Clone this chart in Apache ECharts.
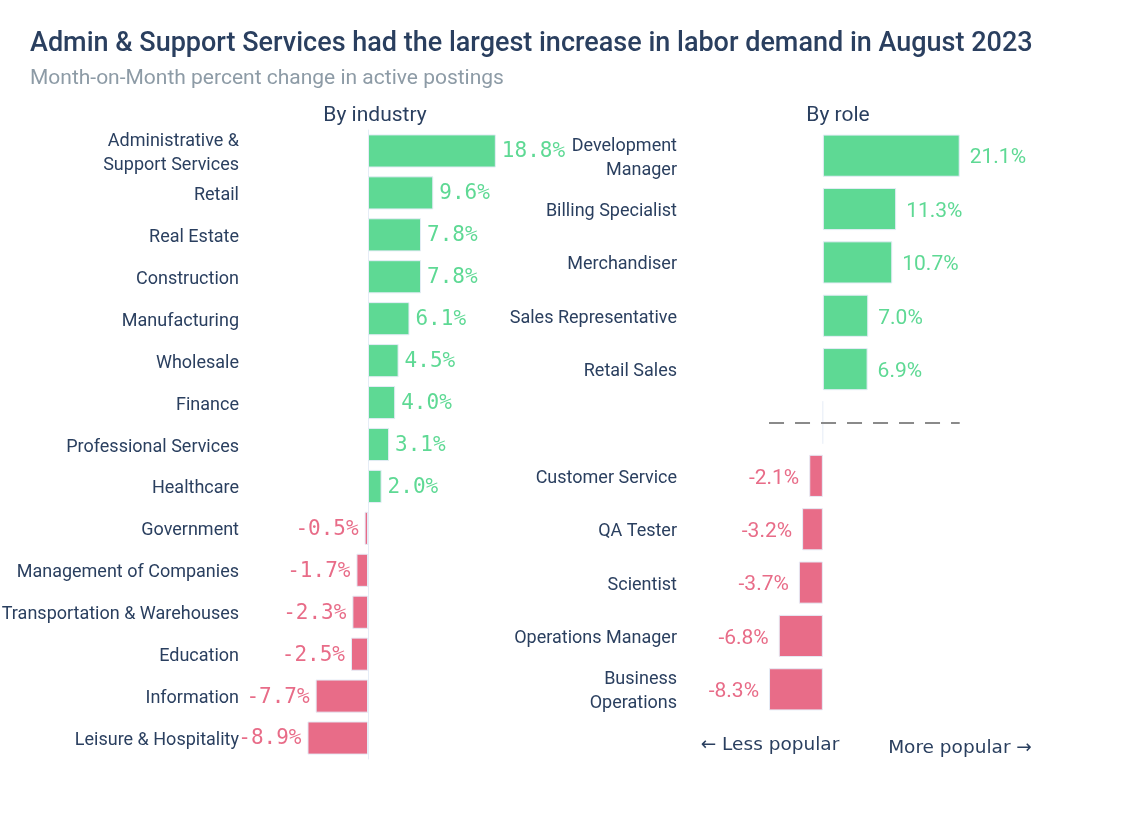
<!DOCTYPE html>
<html>
<head>
<meta charset="utf-8">
<script src="https://cdn.jsdelivr.net/npm/echarts@6/dist/echarts.min.js"></script>
<style>
html,body{margin:0;padding:0;background:#fff;}
#chart{width:1131px;height:838px;}
</style>
</head>
<body>
<div id="chart"></div>
<script>
const titleText = 'Admin & Support Services had the largest increase in labor demand in August 2023';
const subtitleText = 'Month-on-Month percent change in active postings';

const industries = ['Administrative &\nSupport Services','Retail','Real Estate','Construction','Manufacturing','Wholesale','Finance','Professional Services','Healthcare','Government','Management of Companies','Transportation & Warehouses','Education','Information','Leisure & Hospitality'];
const industryValues = [18.8, 9.6, 7.8, 7.8, 6.1, 4.5, 4.0, 3.1, 2.0, -0.5, -1.7, -2.3, -2.5, -7.7, -8.9];

const roles = ['Development\nManager','Billing Specialist','Merchandiser','Sales Representative','Retail Sales',' ','Customer Service','QA Tester','Scientist','Operations Manager','Business\nOperations'];
const roleValues = [21.1, 11.3, 10.7, 7.0, 6.9, null, -2.1, -3.2, -3.7, -6.8, -8.3];

const GREEN = '#5ed994';
const RED = '#e86c88';
const TEXT = '#2a3f5f';

function barData(vals, font, size, dist, dy){
  return vals.map(v => v === null ? null : {
    value: v,
    itemStyle: {color: v >= 0 ? GREEN : RED},
    label: {
      show: true,
      position: v >= 0 ? 'right' : 'left',
      distance: dist,
      offset: [0, dy],
      color: v >= 0 ? GREEN : RED,
      fontFamily: font,
      fontSize: size,
      formatter: p => p.value.toFixed(1) + '%'
    }
  });
}

// category labels drawn through the category scale (custom series)
function labelSeries(axisIdx, cats, margin){
  return {
    type:'custom', xAxisIndex:axisIdx, yAxisIndex:axisIdx, silent:true, clip:false, z:5,
    data: cats.map((c, i) => [i]),
    encode:{y:0},
    renderItem:(params, api) => {
      const idx = api.value(0);
      const ext = params.coordSys;
      const y = api.coord([0, idx])[1];
      return {type:'text', x: ext.x - margin, y: y + 2.5,
        style:{text: cats[idx], align:'right', verticalAlign:'middle',
               fill: TEXT, font: '18px Roboto', lineHeight: 24}};
    }
  };
}

const roleNums = roleValues.filter(v => v !== null);
const roleMin = Math.min(...roleNums), roleMax = Math.max(...roleNums);
const blankRole = roles[roleValues.indexOf(null)];

const chart = echarts.init(document.getElementById('chart'), null, {renderer:'canvas'});
chart.setOption({
  backgroundColor: '#fff',
  animation: false,
  grid: [
    {left: 300, width: 204, top: 130, height: 629},
    {left: 758, width: 227, top: 129, height: 587}
  ],
  xAxis: [
    {gridIndex:0, type:'value', min:-10, max:20, show:false},
    {gridIndex:1, type:'value', min:-10, max:25, show:false}
  ],
  yAxis: [
    {gridIndex:0, type:'category', data: industries, inverse:true,
     axisTick:{show:false},
     axisLine:{show:true, onZero:true, lineStyle:{color:'#e5ecf6', width:1}},
     axisLabel:{show:false}},
    {gridIndex:1, type:'category', data: roles, inverse:true,
     axisTick:{show:false},
     axisLine:{show:false},
     axisLabel:{show:false}}
  ],
  series: [
    {type:'bar', xAxisIndex:0, yAxisIndex:0, barCategoryGap:'21%',
     itemStyle:{borderColor:'#e5ecf6', borderWidth:1},
     data: barData(industryValues, 'DejaVu Sans Mono', 21, 6, 1)},
    {type:'bar', xAxisIndex:1, yAxisIndex:1, barCategoryGap:'21%',
     itemStyle:{borderColor:'#e5ecf6', borderWidth:1},
     data: barData(roleValues, 'Roboto', 21, 10, 2.5),
     markLine:{
       silent:true, symbol:'none',
       label:{show:false},
       lineStyle:{color:'#8a8a8a', type:[15,11], width:2},
       data:[[{coord:[roleMin, blankRole]},{coord:[roleMax, blankRole]}]]
     }},
    {type:'custom', xAxisIndex:1, yAxisIndex:1, silent:true,
     data:[[0, blankRole]],
     encode:{x:0, y:1},
     renderItem:(params, api) => {
       const p = api.coord([api.value(0), api.value(1)]);
       const bw = api.size([0,1])[1];
       return {type:'line', shape:{x1:p[0], y1:p[1]-bw*0.4, x2:p[0], y2:p[1]+bw*0.4},
               style:{stroke:'#e5ecf6', lineWidth:1}};
     }},
    labelSeries(0, industries, 61),
    labelSeries(1, roles, 81)
  ],
  graphic: [
    {type:'text', left:30, top:31, style:{text:titleText, fill:TEXT, font:'500 27px Roboto'}},
    {type:'text', left:30, top:68, style:{text:subtitleText, fill:'#8d9ba6', font:'21px Roboto'}},
    {type:'text', x:375, y:116, style:{text:'By industry', fill:TEXT, font:'21px Roboto', textAlign:'center', textVerticalAlign:'middle'}},
    {type:'text', x:838, y:116, style:{text:'By role', fill:TEXT, font:'21px Roboto', textAlign:'center', textVerticalAlign:'middle'}},
    {type:'text', x:770, y:745, style:{text:'\u2190 Less popular', fill:TEXT, font:'18.5px "DejaVu Sans"', textAlign:'center', textVerticalAlign:'middle'}},
    {type:'text', x:960, y:748, style:{text:'More popular \u2192', fill:TEXT, font:'18.5px "DejaVu Sans"', textAlign:'center', textVerticalAlign:'middle'}}
  ]
});
</script>
</body>
</html>
